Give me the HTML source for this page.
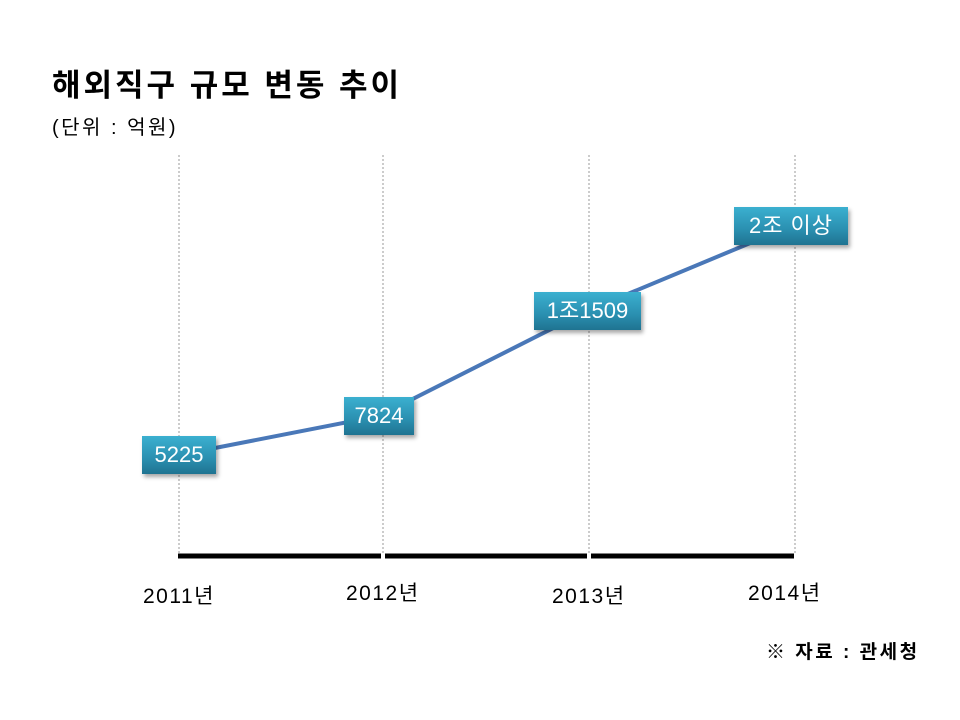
<!DOCTYPE html>
<html><head><meta charset="utf-8"><style>
body{margin:0;width:960px;height:720px;background:#fff;position:relative;overflow:hidden;font-family:"Liberation Sans","Noto Sans CJK KR",sans-serif;}
.t{position:absolute;white-space:nowrap;color:#000}
.box{position:absolute;height:38px;line-height:38px;text-align:center;color:#fff;font-size:22px;background:linear-gradient(#3bb0d0,#2a8fb0 60%,#1f7391);box-shadow:2px 3px 4px rgba(0,0,0,0.35);}
.y{font-size:21px;letter-spacing:1.5px}
</style></head><body>
<div class="t" style="left:52px;top:60px;font-size:31px;font-weight:bold;letter-spacing:3px">해외직구 규모 변동 추이</div>
<div class="t" style="left:52px;top:111px;font-size:20px;letter-spacing:2.5px">(단위 : 억원)</div>
<svg width="960" height="720" style="position:absolute;left:0;top:0">
<g stroke="#999" stroke-width="1" stroke-dasharray="2,2">
<line x1="179" y1="155" x2="179" y2="555"/><line x1="383" y1="155" x2="383" y2="555"/>
<line x1="589" y1="155" x2="589" y2="555"/><line x1="795" y1="155" x2="795" y2="555"/></g>
<g stroke="#000" stroke-width="5">
<line x1="178" y1="556" x2="381" y2="556"/><line x1="385" y1="556" x2="587" y2="556"/><line x1="591" y1="556" x2="794" y2="556"/></g>
<polyline points="179,455 379,416 587,311 791,226" fill="none" stroke="#4a78b8" stroke-width="4"/>
</svg>
<div class="box" style="left:142px;top:436px;width:74px">5225</div>
<div class="box" style="left:344px;top:397px;width:70px">7824</div>
<div class="box" style="left:534px;top:292px;width:107px">1조1509</div>
<div class="box" style="left:734px;top:207px;width:114px;letter-spacing:1px">2조 이상</div>
<div class="t y" style="left:143px;top:580px">2011년</div>
<div class="t y" style="left:346px;top:577px">2012년</div>
<div class="t y" style="left:552px;top:580px">2013년</div>
<div class="t y" style="left:748px;top:577px">2014년</div>
<div class="t" style="left:766px;top:637px;font-size:19px;font-weight:bold;letter-spacing:2.5px">※ 자료 : 관세청</div>
</body></html>
